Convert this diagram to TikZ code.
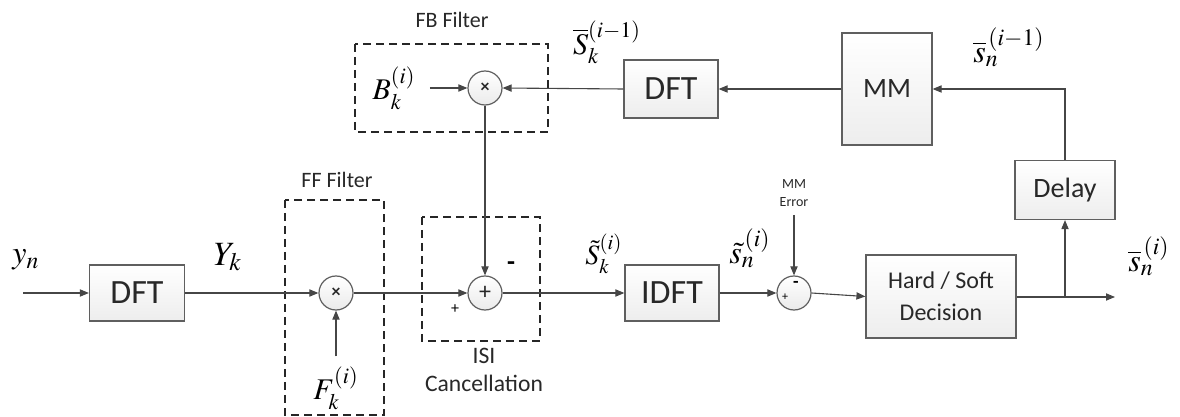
\documentclass[tikz,border=0pt]{standalone}
\usepackage{mathptmx}
\usepackage{fontspec}
\setmainfont{Carlito}
\usepackage{tikz}
\usetikzlibrary{arrows.meta,shadings}

\definecolor{lnc}{RGB}{70,70,70}
\definecolor{bdc}{RGB}{95,95,95}
\definecolor{txc}{RGB}{40,40,40}

\tikzset{
  blk/.style={draw=bdc,line width=0.6pt,top color=white,bottom color=gray!14,
    text=txc,inner sep=0pt,align=center},
  sumnode/.style={circle,draw=bdc,line width=0.6pt,top color=white,bottom color=gray!16,
    minimum size=17pt,inner sep=0pt,text=txc},
  filt/.style={draw=black!85,dashed,dash pattern=on 4pt off 2.5pt,line width=0.6pt},
  arr/.style={draw=lnc,line width=0.55pt,-{Triangle[length=4.5pt,width=3.6pt]}},
  lbl/.style={inner sep=0pt,font=\fontsize{16}{18}\selectfont},
  txtlbl/.style={inner sep=0pt,text=txc,font=\fontsize{11}{14}\selectfont,align=center}
}

\begin{document}
\begin{tikzpicture}[x=0.5pt,y=-0.5pt]
\useasboundingbox (0,0) rectangle (1180,417);
% filter frames
\draw[filt] (285,200) rectangle (384,415);
\draw[filt] (422,217) rectangle (540,341);
\draw[filt] (355,44) rectangle (548,132);
\node[txtlbl] (fflbl) at (337,180) {FF Filter};
\node[txtlbl] (fblbl) at (452,20) {FB Filter};
\node[txtlbl,font=\fontsize{11.8}{14}\selectfont] (isilbl) at (484,370) {ISI\\Cancellation};
% forward path
\coordinate (in) at (23,293);
\node[blk,minimum width=47.5pt,minimum height=28pt,font=\fontsize{17}{20}\selectfont] (dft1) at (137,293) {DFT};
\node[sumnode] (ffm) at (336,293) {\fontsize{9}{9}\selectfont\bfseries ×};
\node[sumnode] (isi) at (485,293) {\fontsize{12}{12}\selectfont +};
\node[blk,minimum width=47pt,minimum height=28pt,font=\fontsize{17}{20}\selectfont] (idft) at (672,293) {IDFT};
\node[sumnode] (sub) at (794,293) {};
\node[blk,minimum width=75pt,minimum height=41.5pt,font=\fontsize{12}{16}\selectfont] (hsd) at (941,296.5) {Hard / Soft\\Decision};
\coordinate (out) at (1115,297);
\coordinate (tap) at (1065,297);
% feedback path
\node[blk,minimum width=50pt,minimum height=29.5pt,font=\fontsize{14}{16}\selectfont] (delay) at (1065,190) {Delay};
\node[blk,minimum width=45pt,minimum height=56pt,font=\fontsize{14}{16}\selectfont] (mm) at (887,89) {MM};
\node[blk,minimum width=47pt,minimum height=29pt,font=\fontsize{17}{20}\selectfont] (dft2) at (671,89) {DFT};
\node[sumnode] (fbm) at (485,88) {\fontsize{9}{9}\selectfont\bfseries ×};
% signal labels
\node[lbl] (yn) at (26,260) {$y_n$};
\node[lbl,font=\fontsize{17}{19}\selectfont] (Yk) at (228,257) {$Y_k$};
\node[lbl,font=\fontsize{15}{17}\selectfont] (Bk) at (394,88) {$B_k^{(i)}$};
\node[lbl,font=\fontsize{15}{17}\selectfont] (Fk) at (336,388) {$F_k^{(i)}$};
\node[lbl,font=\fontsize{15}{17}\selectfont] (Sbk) at (607,42) {$\overline{S}_k^{(i-1)}$};
\node[lbl,font=\fontsize{14}{17}\selectfont] (Stk) at (604,254) {$\tilde{S}_k^{(i)}$};
\node[lbl,font=\fontsize{16}{18}\selectfont] (stn) at (750,248) {$\tilde{s}_n^{\,(i)}$};
\node[lbl,font=\fontsize{16}{18}\selectfont] (sbn1) at (1009,47) {$\overline{s}_n^{\,(i-1)}$};
\node[lbl,font=\fontsize{16}{18}\selectfont] (sbn) at (1149,256) {$\overline{s}_n^{\,(i)}$};
\node[txtlbl,font=\fontsize{7}{9}\selectfont] (err) at (794,193) {MM\\Error};
% signs
\node[inner sep=0pt,font=\fontsize{13}{13}\selectfont\bfseries] (isim) at (511,266) {-};
\node[inner sep=0pt,font=\fontsize{8}{8}\selectfont] (isip) at (455,309) {+};
\node[inner sep=0pt,font=\fontsize{6}{6}\selectfont] (subp) at (785,297) {+};
\node[inner sep=0pt,font=\fontsize{9}{9}\selectfont\bfseries] (subm) at (796,284) {-};
% connectors
\draw[arr] (in) -- (dft1.west);
\draw[arr] (dft1.east) -- (ffm.west);
\draw[arr] (Fk.north) ++(0,-10) -- (ffm.south);
\draw[arr] (ffm.east) -- (isi.west);
\draw[arr] (fbm.south) -- (isi.north);
\draw[arr] (isi.east) -- (idft.west);
\draw[arr] (idft.east) -- (sub.west);
\draw[arr] (err.south) ++(0,8) -- (sub.north);
\draw[arr] (sub.east) -- (hsd.west);
\draw[arr] (hsd.east |- out) -- (out);
\draw[arr] (tap) -- (delay.south);
\draw[arr] (delay.north) |- (mm.east);
\draw[arr] (mm.west) -- (dft2.east);
\draw[arr] (dft2.west) -- (fbm.east);
\draw[arr] (Bk.east) ++(14,0) -- (fbm.west);
\end{tikzpicture}
\end{document}
